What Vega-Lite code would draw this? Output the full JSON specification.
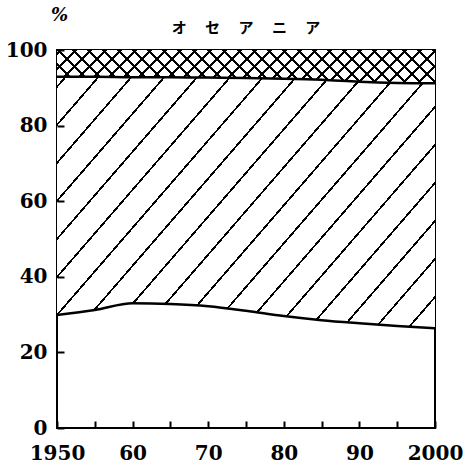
{
  "$schema": "https://vega.github.io/schema/vega-lite/v6.json",
  "width": 378,
  "height": 378,
  "autosize": "none",
  "padding": {"left": 57, "top": 50, "right": 35, "bottom": 40},
  "background": "white",
  "title": {
    "text": "オ　 セ　 ア　 ニ　 ア",
    "anchor": "middle",
    "frame": "group",
    "font": "Noto Sans CJK JP",
    "fontSize": 15,
    "fontWeight": "bold",
    "color": "black",
    "baseline": "bottom",
    "offset": -45
  },
  "data": {
    "values": [
      {"year": 1950, "group": "0-14", "value": 29.9},
      {"year": 1950, "group": "15-64", "value": 63.0},
      {"year": 1950, "group": "65+", "value": 7.1},
      {"year": 1955, "group": "0-14", "value": 31.2},
      {"year": 1955, "group": "15-64", "value": 61.7},
      {"year": 1955, "group": "65+", "value": 7.1},
      {"year": 1960, "group": "0-14", "value": 33.0},
      {"year": 1960, "group": "15-64", "value": 59.8},
      {"year": 1960, "group": "65+", "value": 7.2},
      {"year": 1965, "group": "0-14", "value": 32.8},
      {"year": 1965, "group": "15-64", "value": 60.0},
      {"year": 1965, "group": "65+", "value": 7.2},
      {"year": 1970, "group": "0-14", "value": 32.2},
      {"year": 1970, "group": "15-64", "value": 60.5},
      {"year": 1970, "group": "65+", "value": 7.3},
      {"year": 1975, "group": "0-14", "value": 31.0},
      {"year": 1975, "group": "15-64", "value": 61.6},
      {"year": 1975, "group": "65+", "value": 7.4},
      {"year": 1980, "group": "0-14", "value": 29.6},
      {"year": 1980, "group": "15-64", "value": 62.8},
      {"year": 1980, "group": "65+", "value": 7.6},
      {"year": 1985, "group": "0-14", "value": 28.5},
      {"year": 1985, "group": "15-64", "value": 63.6},
      {"year": 1985, "group": "65+", "value": 7.9},
      {"year": 1990, "group": "0-14", "value": 27.7},
      {"year": 1990, "group": "15-64", "value": 63.9},
      {"year": 1990, "group": "65+", "value": 8.4},
      {"year": 1995, "group": "0-14", "value": 27.0},
      {"year": 1995, "group": "15-64", "value": 64.3},
      {"year": 1995, "group": "65+", "value": 8.7},
      {"year": 2000, "group": "0-14", "value": 26.4},
      {"year": 2000, "group": "15-64", "value": 64.8},
      {"year": 2000, "group": "65+", "value": 8.8}
    ]
  },
  "transform": [
    {"stack": "value", "groupby": ["year"], "sort": [{"field": "group", "order": "ascending"}], "as": ["lo", "hi"]}
  ],
  "encoding": {
    "x": {
      "field": "year",
      "type": "quantitative",
      "scale": {"domain": [1950, 2000], "nice": false, "zero": false},
      "axis": {
        "title": null,
        "zindex": 1,
        "values": [1950, 1955, 1960, 1965, 1970, 1975, 1980, 1985, 1990, 1995, 2000],
        "labelExpr": "datum.value == 1950 || datum.value == 2000 ? '' + datum.value : (datum.value % 10 == 0 ? substring('' + datum.value, 2) : '')",
        "labelFlush": false,
        "labelOverlap": false,
        "labelBound": false,
        "labelPadding": 22
      }
    }
  },
  "layer": [
    {
      "transform": [{"filter": "datum.group === '15-64'"}],
      "mark": {
        "type": "area",
        "interpolate": "monotone",
        "fill": {
          "gradient": "linear",
          "x1": 0, "y1": 0, "x2": 1.1834, "y2": 0.6818,
          "stops": [
            {"offset": 0, "color": "white"},
            {"offset": 0.0125, "color": "white"}, {"offset": 0.0125, "color": "black"}, {"offset": 0.0165, "color": "black"}, {"offset": 0.0165, "color": "white"},
            {"offset": 0.0678, "color": "white"}, {"offset": 0.0678, "color": "black"}, {"offset": 0.0718, "color": "black"}, {"offset": 0.0718, "color": "white"},
            {"offset": 0.1231, "color": "white"}, {"offset": 0.1231, "color": "black"}, {"offset": 0.1271, "color": "black"}, {"offset": 0.1271, "color": "white"},
            {"offset": 0.1784, "color": "white"}, {"offset": 0.1784, "color": "black"}, {"offset": 0.1824, "color": "black"}, {"offset": 0.1824, "color": "white"},
            {"offset": 0.2337, "color": "white"}, {"offset": 0.2337, "color": "black"}, {"offset": 0.2377, "color": "black"}, {"offset": 0.2377, "color": "white"},
            {"offset": 0.2890, "color": "white"}, {"offset": 0.2890, "color": "black"}, {"offset": 0.2930, "color": "black"}, {"offset": 0.2930, "color": "white"},
            {"offset": 0.3443, "color": "white"}, {"offset": 0.3443, "color": "black"}, {"offset": 0.3483, "color": "black"}, {"offset": 0.3483, "color": "white"},
            {"offset": 0.3996, "color": "white"}, {"offset": 0.3996, "color": "black"}, {"offset": 0.4036, "color": "black"}, {"offset": 0.4036, "color": "white"},
            {"offset": 0.4549, "color": "white"}, {"offset": 0.4549, "color": "black"}, {"offset": 0.4589, "color": "black"}, {"offset": 0.4589, "color": "white"},
            {"offset": 0.5102, "color": "white"}, {"offset": 0.5102, "color": "black"}, {"offset": 0.5142, "color": "black"}, {"offset": 0.5142, "color": "white"},
            {"offset": 0.5655, "color": "white"}, {"offset": 0.5655, "color": "black"}, {"offset": 0.5695, "color": "black"}, {"offset": 0.5695, "color": "white"},
            {"offset": 0.6208, "color": "white"}, {"offset": 0.6208, "color": "black"}, {"offset": 0.6248, "color": "black"}, {"offset": 0.6248, "color": "white"},
            {"offset": 0.6761, "color": "white"}, {"offset": 0.6761, "color": "black"}, {"offset": 0.6801, "color": "black"}, {"offset": 0.6801, "color": "white"},
            {"offset": 0.7314, "color": "white"}, {"offset": 0.7314, "color": "black"}, {"offset": 0.7354, "color": "black"}, {"offset": 0.7354, "color": "white"},
            {"offset": 0.7867, "color": "white"}, {"offset": 0.7867, "color": "black"}, {"offset": 0.7907, "color": "black"}, {"offset": 0.7907, "color": "white"},
            {"offset": 0.8420, "color": "white"}, {"offset": 0.8420, "color": "black"}, {"offset": 0.8460, "color": "black"}, {"offset": 0.8460, "color": "white"},
            {"offset": 0.8973, "color": "white"}, {"offset": 0.8973, "color": "black"}, {"offset": 0.9013, "color": "black"}, {"offset": 0.9013, "color": "white"},
            {"offset": 0.9526, "color": "white"}, {"offset": 0.9526, "color": "black"}, {"offset": 0.9566, "color": "black"}, {"offset": 0.9566, "color": "white"},
            {"offset": 1, "color": "white"}
          ]
        }
      },
      "encoding": {
        "y": {
          "field": "hi",
          "type": "quantitative",
          "scale": {"domain": [0, 100], "nice": false},
          "axis": {
            "title": "%",
            "zindex": 1,
            "titleAngle": 0,
            "titleX": 2,
            "titleY": -35,
            "titleAlign": "center",
            "titleBaseline": "middle",
            "titleFont": "DejaVu Serif",
            "titleFontStyle": "italic",
            "titleFontWeight": "bold",
            "titleFontSize": 18,
            "titleColor": "black",
            "values": [0, 10, 20, 30, 40, 50, 60, 70, 80, 90, 100],
            "labelExpr": "datum.value % 20 == 0 ? '' + datum.value : ''",
            "labelOverlap": false,
            "labelFlush": false,
            "labelBound": false,
            "labelPadding": 17
          }
        },
        "y2": {"field": "lo"}
      }
    },
    {
      "transform": [{"filter": "datum.group === '65+'"}],
      "mark": {
        "type": "area",
        "interpolate": "monotone",
        "fill": {
          "gradient": "linear",
          "x1": 0, "y1": 0, "x2": 1.0796, "y2": 0.0951,
          "stops": [
            {"offset": 0, "color": "white"},
            {"offset": 0.0066, "color": "white"}, {"offset": 0.0066, "color": "black"}, {"offset": 0.0134, "color": "black"}, {"offset": 0.0134, "color": "white"},
            {"offset": 0.0431, "color": "white"}, {"offset": 0.0431, "color": "black"}, {"offset": 0.0499, "color": "black"}, {"offset": 0.0499, "color": "white"},
            {"offset": 0.0796, "color": "white"}, {"offset": 0.0796, "color": "black"}, {"offset": 0.0864, "color": "black"}, {"offset": 0.0864, "color": "white"},
            {"offset": 0.1160, "color": "white"}, {"offset": 0.1160, "color": "black"}, {"offset": 0.1228, "color": "black"}, {"offset": 0.1228, "color": "white"},
            {"offset": 0.1525, "color": "white"}, {"offset": 0.1525, "color": "black"}, {"offset": 0.1593, "color": "black"}, {"offset": 0.1593, "color": "white"},
            {"offset": 0.1890, "color": "white"}, {"offset": 0.1890, "color": "black"}, {"offset": 0.1958, "color": "black"}, {"offset": 0.1958, "color": "white"},
            {"offset": 0.2255, "color": "white"}, {"offset": 0.2255, "color": "black"}, {"offset": 0.2323, "color": "black"}, {"offset": 0.2323, "color": "white"},
            {"offset": 0.2620, "color": "white"}, {"offset": 0.2620, "color": "black"}, {"offset": 0.2688, "color": "black"}, {"offset": 0.2688, "color": "white"},
            {"offset": 0.2984, "color": "white"}, {"offset": 0.2984, "color": "black"}, {"offset": 0.3052, "color": "black"}, {"offset": 0.3052, "color": "white"},
            {"offset": 0.3349, "color": "white"}, {"offset": 0.3349, "color": "black"}, {"offset": 0.3417, "color": "black"}, {"offset": 0.3417, "color": "white"},
            {"offset": 0.3714, "color": "white"}, {"offset": 0.3714, "color": "black"}, {"offset": 0.3782, "color": "black"}, {"offset": 0.3782, "color": "white"},
            {"offset": 0.4079, "color": "white"}, {"offset": 0.4079, "color": "black"}, {"offset": 0.4147, "color": "black"}, {"offset": 0.4147, "color": "white"},
            {"offset": 0.4444, "color": "white"}, {"offset": 0.4444, "color": "black"}, {"offset": 0.4512, "color": "black"}, {"offset": 0.4512, "color": "white"},
            {"offset": 0.4808, "color": "white"}, {"offset": 0.4808, "color": "black"}, {"offset": 0.4876, "color": "black"}, {"offset": 0.4876, "color": "white"},
            {"offset": 0.5173, "color": "white"}, {"offset": 0.5173, "color": "black"}, {"offset": 0.5241, "color": "black"}, {"offset": 0.5241, "color": "white"},
            {"offset": 0.5538, "color": "white"}, {"offset": 0.5538, "color": "black"}, {"offset": 0.5606, "color": "black"}, {"offset": 0.5606, "color": "white"},
            {"offset": 0.5903, "color": "white"}, {"offset": 0.5903, "color": "black"}, {"offset": 0.5971, "color": "black"}, {"offset": 0.5971, "color": "white"},
            {"offset": 0.6268, "color": "white"}, {"offset": 0.6268, "color": "black"}, {"offset": 0.6336, "color": "black"}, {"offset": 0.6336, "color": "white"},
            {"offset": 0.6632, "color": "white"}, {"offset": 0.6632, "color": "black"}, {"offset": 0.6700, "color": "black"}, {"offset": 0.6700, "color": "white"},
            {"offset": 0.6997, "color": "white"}, {"offset": 0.6997, "color": "black"}, {"offset": 0.7065, "color": "black"}, {"offset": 0.7065, "color": "white"},
            {"offset": 0.7362, "color": "white"}, {"offset": 0.7362, "color": "black"}, {"offset": 0.7430, "color": "black"}, {"offset": 0.7430, "color": "white"},
            {"offset": 0.7727, "color": "white"}, {"offset": 0.7727, "color": "black"}, {"offset": 0.7795, "color": "black"}, {"offset": 0.7795, "color": "white"},
            {"offset": 0.8092, "color": "white"}, {"offset": 0.8092, "color": "black"}, {"offset": 0.8160, "color": "black"}, {"offset": 0.8160, "color": "white"},
            {"offset": 0.8456, "color": "white"}, {"offset": 0.8456, "color": "black"}, {"offset": 0.8524, "color": "black"}, {"offset": 0.8524, "color": "white"},
            {"offset": 0.8821, "color": "white"}, {"offset": 0.8821, "color": "black"}, {"offset": 0.8889, "color": "black"}, {"offset": 0.8889, "color": "white"},
            {"offset": 0.9186, "color": "white"}, {"offset": 0.9186, "color": "black"}, {"offset": 0.9254, "color": "black"}, {"offset": 0.9254, "color": "white"},
            {"offset": 0.9551, "color": "white"}, {"offset": 0.9551, "color": "black"}, {"offset": 0.9619, "color": "black"}, {"offset": 0.9619, "color": "white"},
            {"offset": 0.9916, "color": "white"}, {"offset": 0.9916, "color": "black"}, {"offset": 0.9984, "color": "black"}, {"offset": 0.9984, "color": "white"},
            {"offset": 1, "color": "white"}
          ]
        }
      },
      "encoding": {
        "y": {"field": "hi", "type": "quantitative"},
        "y2": {"field": "lo"}
      }
    },
    {
      "transform": [{"filter": "datum.group === '65+'"}],
      "mark": {
        "type": "area",
        "interpolate": "monotone",
        "fill": {
          "gradient": "linear",
          "x1": 0, "y1": 1, "x2": 1.0796, "y2": 0.9049,
          "stops": [
            {"offset": 0, "color": "rgba(255,255,255,0)"},
            {"offset": 0.0066, "color": "rgba(255,255,255,0)"}, {"offset": 0.0066, "color": "black"}, {"offset": 0.0134, "color": "black"}, {"offset": 0.0134, "color": "rgba(255,255,255,0)"},
            {"offset": 0.0431, "color": "rgba(255,255,255,0)"}, {"offset": 0.0431, "color": "black"}, {"offset": 0.0499, "color": "black"}, {"offset": 0.0499, "color": "rgba(255,255,255,0)"},
            {"offset": 0.0796, "color": "rgba(255,255,255,0)"}, {"offset": 0.0796, "color": "black"}, {"offset": 0.0864, "color": "black"}, {"offset": 0.0864, "color": "rgba(255,255,255,0)"},
            {"offset": 0.1160, "color": "rgba(255,255,255,0)"}, {"offset": 0.1160, "color": "black"}, {"offset": 0.1228, "color": "black"}, {"offset": 0.1228, "color": "rgba(255,255,255,0)"},
            {"offset": 0.1525, "color": "rgba(255,255,255,0)"}, {"offset": 0.1525, "color": "black"}, {"offset": 0.1593, "color": "black"}, {"offset": 0.1593, "color": "rgba(255,255,255,0)"},
            {"offset": 0.1890, "color": "rgba(255,255,255,0)"}, {"offset": 0.1890, "color": "black"}, {"offset": 0.1958, "color": "black"}, {"offset": 0.1958, "color": "rgba(255,255,255,0)"},
            {"offset": 0.2255, "color": "rgba(255,255,255,0)"}, {"offset": 0.2255, "color": "black"}, {"offset": 0.2323, "color": "black"}, {"offset": 0.2323, "color": "rgba(255,255,255,0)"},
            {"offset": 0.2620, "color": "rgba(255,255,255,0)"}, {"offset": 0.2620, "color": "black"}, {"offset": 0.2688, "color": "black"}, {"offset": 0.2688, "color": "rgba(255,255,255,0)"},
            {"offset": 0.2984, "color": "rgba(255,255,255,0)"}, {"offset": 0.2984, "color": "black"}, {"offset": 0.3052, "color": "black"}, {"offset": 0.3052, "color": "rgba(255,255,255,0)"},
            {"offset": 0.3349, "color": "rgba(255,255,255,0)"}, {"offset": 0.3349, "color": "black"}, {"offset": 0.3417, "color": "black"}, {"offset": 0.3417, "color": "rgba(255,255,255,0)"},
            {"offset": 0.3714, "color": "rgba(255,255,255,0)"}, {"offset": 0.3714, "color": "black"}, {"offset": 0.3782, "color": "black"}, {"offset": 0.3782, "color": "rgba(255,255,255,0)"},
            {"offset": 0.4079, "color": "rgba(255,255,255,0)"}, {"offset": 0.4079, "color": "black"}, {"offset": 0.4147, "color": "black"}, {"offset": 0.4147, "color": "rgba(255,255,255,0)"},
            {"offset": 0.4444, "color": "rgba(255,255,255,0)"}, {"offset": 0.4444, "color": "black"}, {"offset": 0.4512, "color": "black"}, {"offset": 0.4512, "color": "rgba(255,255,255,0)"},
            {"offset": 0.4808, "color": "rgba(255,255,255,0)"}, {"offset": 0.4808, "color": "black"}, {"offset": 0.4876, "color": "black"}, {"offset": 0.4876, "color": "rgba(255,255,255,0)"},
            {"offset": 0.5173, "color": "rgba(255,255,255,0)"}, {"offset": 0.5173, "color": "black"}, {"offset": 0.5241, "color": "black"}, {"offset": 0.5241, "color": "rgba(255,255,255,0)"},
            {"offset": 0.5538, "color": "rgba(255,255,255,0)"}, {"offset": 0.5538, "color": "black"}, {"offset": 0.5606, "color": "black"}, {"offset": 0.5606, "color": "rgba(255,255,255,0)"},
            {"offset": 0.5903, "color": "rgba(255,255,255,0)"}, {"offset": 0.5903, "color": "black"}, {"offset": 0.5971, "color": "black"}, {"offset": 0.5971, "color": "rgba(255,255,255,0)"},
            {"offset": 0.6268, "color": "rgba(255,255,255,0)"}, {"offset": 0.6268, "color": "black"}, {"offset": 0.6336, "color": "black"}, {"offset": 0.6336, "color": "rgba(255,255,255,0)"},
            {"offset": 0.6632, "color": "rgba(255,255,255,0)"}, {"offset": 0.6632, "color": "black"}, {"offset": 0.6700, "color": "black"}, {"offset": 0.6700, "color": "rgba(255,255,255,0)"},
            {"offset": 0.6997, "color": "rgba(255,255,255,0)"}, {"offset": 0.6997, "color": "black"}, {"offset": 0.7065, "color": "black"}, {"offset": 0.7065, "color": "rgba(255,255,255,0)"},
            {"offset": 0.7362, "color": "rgba(255,255,255,0)"}, {"offset": 0.7362, "color": "black"}, {"offset": 0.7430, "color": "black"}, {"offset": 0.7430, "color": "rgba(255,255,255,0)"},
            {"offset": 0.7727, "color": "rgba(255,255,255,0)"}, {"offset": 0.7727, "color": "black"}, {"offset": 0.7795, "color": "black"}, {"offset": 0.7795, "color": "rgba(255,255,255,0)"},
            {"offset": 0.8092, "color": "rgba(255,255,255,0)"}, {"offset": 0.8092, "color": "black"}, {"offset": 0.8160, "color": "black"}, {"offset": 0.8160, "color": "rgba(255,255,255,0)"},
            {"offset": 0.8456, "color": "rgba(255,255,255,0)"}, {"offset": 0.8456, "color": "black"}, {"offset": 0.8524, "color": "black"}, {"offset": 0.8524, "color": "rgba(255,255,255,0)"},
            {"offset": 0.8821, "color": "rgba(255,255,255,0)"}, {"offset": 0.8821, "color": "black"}, {"offset": 0.8889, "color": "black"}, {"offset": 0.8889, "color": "rgba(255,255,255,0)"},
            {"offset": 0.9186, "color": "rgba(255,255,255,0)"}, {"offset": 0.9186, "color": "black"}, {"offset": 0.9254, "color": "black"}, {"offset": 0.9254, "color": "rgba(255,255,255,0)"},
            {"offset": 0.9551, "color": "rgba(255,255,255,0)"}, {"offset": 0.9551, "color": "black"}, {"offset": 0.9619, "color": "black"}, {"offset": 0.9619, "color": "rgba(255,255,255,0)"},
            {"offset": 0.9916, "color": "rgba(255,255,255,0)"}, {"offset": 0.9916, "color": "black"}, {"offset": 0.9984, "color": "black"}, {"offset": 0.9984, "color": "rgba(255,255,255,0)"},
            {"offset": 1, "color": "rgba(255,255,255,0)"}
          ]
        }
      },
      "encoding": {
        "y": {"field": "hi", "type": "quantitative"},
        "y2": {"field": "lo"}
      }
    },
    {
      "transform": [{"filter": "datum.group !== '65+'"}],
      "mark": {"type": "line", "interpolate": "monotone", "color": "black", "strokeWidth": 2.5},
      "encoding": {
        "y": {"field": "hi", "type": "quantitative"},
        "detail": {"field": "group"}
      }
    }
  ],
  "config": {
    "view": {"stroke": "black", "strokeWidth": 2},
    "axis": {
      "domain": false,
      "grid": false,
      "labelFont": "DejaVu Serif",
      "labelFontWeight": "bold",
      "labelFontSize": 20,
      "labelColor": "black",
      "tickColor": "black",
      "tickWidth": 2,
      "tickSize": -7
    }
  }
}
